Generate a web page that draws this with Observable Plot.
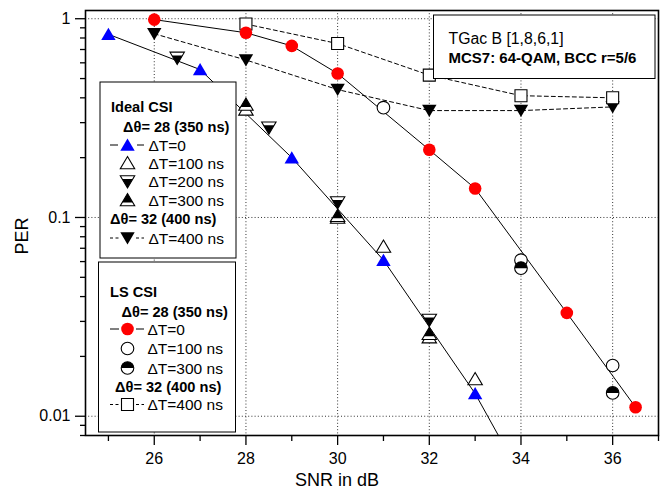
<!DOCTYPE html>
<html><head><meta charset="utf-8">
<script src="https://cdn.jsdelivr.net/npm/d3@7"></script>
<script src="https://cdn.jsdelivr.net/npm/@observablehq/plot@0.6"></script>
<style>
body{margin:0;background:#fff;}
#chart{width:669px;height:491px;}
svg{font-family:"Liberation Sans",Arial,Helvetica,sans-serif;}
</style></head><body><div id="chart"></div>
<script>
// ---------- data (SNR in dB, PER) ----------
// Ideal CSI, Δθ=28 (350 ns)
const idealT0Snr = [25, 27, 29, 31, 33, 34];
const idealT0Per = [0.835, 0.555, 0.2, 0.061, 0.013, 0.005];
const idealT100Snr = [28, 30, 31, 32, 33];
const idealT100Per = [0.35, 0.1, 0.0715, 0.025, 0.0154];
const idealT200Snr = [26.5, 28.5, 30, 32];
const idealT200Per = [0.635, 0.283, 0.119, 0.0305];
const idealT300Snr = [28, 30, 32];
const idealT300Per = [0.37, 0.102, 0.026];
// Ideal CSI, Δθ=32 (400 ns)
const idealT400Snr = [26, 28, 30, 32, 34, 36];
const idealT400Per = [0.84, 0.62, 0.44, 0.345, 0.345, 0.36];
// LS CSI, Δθ=28 (350 ns)
const lsT0Snr = [26, 28, 29, 30, 32, 33, 35, 36.5];
const lsT0Per = [0.99, 0.85, 0.73, 0.53, 0.219, 0.14, 0.0331, 0.0111];
const lsT100Snr = [31, 34, 36];
const lsT100Per = [0.357, 0.061, 0.018];
const lsT300Snr = [34, 36];
const lsT300Per = [0.0556, 0.0131];
// LS CSI, Δθ=32 (400 ns)
const lsT400Snr = [28, 30, 32, 34, 36];
const lsT400Per = [0.94, 0.75, 0.52, 0.41, 0.40];

// ---------- ticks & labels ----------
const xMajor = [26, 28, 30, 32, 34, 36];
const xMinor = [25, 27, 29, 31, 33, 35, 37];
const yMajor = [1, 0.1, 0.01];
const yMajorLabels = ["1", "0.1", "0.01"];
const yMinor = [0.9, 0.8, 0.7, 0.6, 0.5, 0.4, 0.3, 0.2,
                0.09, 0.08, 0.07, 0.06, 0.05, 0.04, 0.03, 0.02,
                0.009, 0.008];
const xTitle = "SNR in dB";
const yTitle = "PER";
const infoLines = ["TGac B [1,8,6,1]", "MCS7: 64-QAM, BCC r=5/6"];
const idealLegend = ["Ideal CSI", "\u0394\u03b8= 28 (350 ns)", "\u0394T=0", "\u0394T=100 ns", "\u0394T=200 ns", "\u0394T=300 ns", "\u0394\u03b8= 32 (400 ns)", "\u0394T=400 ns"];
const lsLegend = ["LS CSI", "\u0394\u03b8= 28 (350 ns)", "\u0394T=0", "\u0394T=100 ns", "\u0394T=300 ns", "\u0394\u03b8= 32 (400 ns)", "\u0394T=400 ns"];

const rows = (s, p) => s.map((x, i) => ({snr: x, per: p[i]}));

// ---------- custom symbols ----------
const rad = size => Math.sqrt(size / Math.PI);
const SYM = {
  triUp: {draw(c, s){const r = rad(s); c.moveTo(0,-0.9*r); c.lineTo(r,0.8*r); c.lineTo(-r,0.8*r); c.closePath();}},
  triDown: {draw(c, s){const r = rad(s); c.moveTo(0,0.9*r); c.lineTo(r,-0.8*r); c.lineTo(-r,-0.8*r); c.closePath();}},
  triDownLow: {draw(c, s){const r = rad(s); c.moveTo(0,0.9*r); c.lineTo(0.735*r,-0.35*r); c.lineTo(-0.735*r,-0.35*r); c.closePath();}},
  triUpHigh: {draw(c, s){const r = rad(s); c.moveTo(0,-0.9*r); c.lineTo(0.735*r,0.35*r); c.lineTo(-0.735*r,0.35*r); c.closePath();}},
  square: {draw(c, s){const r = rad(s); c.rect(-r,-r,2*r,2*r);}},
  circle: {draw(c, s){const r = rad(s); c.moveTo(r,0); c.arc(0,0,r,0,2*Math.PI);}},
  halfTop: {draw(c, s){const r = rad(s); c.moveTo(r,0); c.arc(0,0,r,0,Math.PI,true); c.closePath();}}
};
const TRI = 7.2, CIR = 6.3, SQ = 6;

const xy = {x: "snr", y: "per", clip: true};
const openMark = (data, symbol, r) => Plot.dot(data, {...xy, symbol, r, fill: "white", stroke: "black", strokeWidth: 1.1});
const fillMark = (data, symbol, r, color) => Plot.dot(data, {...xy, symbol, r, fill: color, stroke: "none"});

const chart = Plot.plot({
  width: 669, height: 491,
  marginLeft: 85, marginRight: 11, marginTop: 10, marginBottom: 56,
  x: {domain: [24.5, 37]},
  y: {type: "log", domain: [0.008, 1.1]},
  style: {fontFamily: "'Liberation Sans', Arial, sans-serif", fontSize: "16px", color: "black", background: "white"},
  marks: [
    Plot.ruleX(xMajor, {stroke: "#333", strokeWidth: 1, strokeDasharray: "1,2.2"}),
    Plot.ruleY(yMajor, {stroke: "#333", strokeWidth: 1, strokeDasharray: "1,2.2"}),
    Plot.axisX(xMajor, {anchor: "bottom", tickSize: 10, tickPadding: 7, fontSize: 16, label: null, tickFormat: d => String(d), strokeWidth: 1.3}),
    Plot.axisX(xMinor, {anchor: "bottom", tickSize: 6, label: null, tickFormat: () => "", strokeWidth: 1.3}),
    Plot.axisY(yMajor, {anchor: "left", tickSize: 10, tickPadding: 5, fontSize: 16, label: null, tickFormat: d => yMajorLabels[yMajor.indexOf(d)], strokeWidth: 1.3}),
    Plot.axisY(yMinor, {anchor: "left", tickSize: 5, label: null, tickFormat: () => "", strokeWidth: 1.3}),
    // lines
    Plot.line(rows(idealT0Snr, idealT0Per), {...xy, stroke: "black", strokeWidth: 1}),
    Plot.line(rows(idealT400Snr, idealT400Per), {...xy, stroke: "black", strokeWidth: 1, strokeDasharray: "4,3"}),
    Plot.line(rows(lsT0Snr, lsT0Per), {...xy, stroke: "black", strokeWidth: 1}),
    Plot.line(rows(lsT400Snr, lsT400Per), {...xy, stroke: "black", strokeWidth: 1, strokeDasharray: "4,3"}),
    // ideal markers
    openMark(rows(idealT100Snr, idealT100Per), SYM.triUp, TRI),
    openMark(rows(idealT200Snr, idealT200Per), SYM.triDown, TRI),
    fillMark(rows(idealT200Snr, idealT200Per), SYM.triDownLow, TRI, "black"),
    openMark(rows(idealT300Snr, idealT300Per), SYM.triUp, TRI),
    fillMark(rows(idealT300Snr, idealT300Per), SYM.triUpHigh, TRI, "black"),
    fillMark(rows(idealT0Snr, idealT0Per), SYM.triUp, TRI, "#0000ff"),
    fillMark(rows(idealT400Snr, idealT400Per), SYM.triDown, TRI, "black"),
    // LS markers
    openMark(rows(lsT400Snr, lsT400Per), SYM.square, SQ),
    openMark(rows(lsT100Snr, lsT100Per), SYM.circle, CIR),
    openMark(rows(lsT300Snr, lsT300Per), SYM.circle, CIR),
    fillMark(rows(lsT300Snr, lsT300Per), SYM.halfTop, CIR, "black"),
    fillMark(rows(lsT0Snr, lsT0Per), SYM.circle, CIR, "#ff0000"),
    Plot.frame({stroke: "black", strokeWidth: 1.6})
  ]
});
document.getElementById("chart").appendChild(chart);

// ---------- overlay: axis titles, info box, legends ----------
const svg = d3.select(chart);
const g = svg.append("g").attr("font-family", "'Liberation Sans', Arial, sans-serif").attr("text-anchor", "start");
g.append("text").attr("x", 337).attr("y", 480).attr("text-anchor", "middle").attr("dominant-baseline", "central").attr("font-size", 18).text(xTitle);
g.append("text").attr("transform", "translate(22,236) rotate(-90)").attr("text-anchor", "middle").attr("dominant-baseline", "central").attr("font-size", 18).text(yTitle);

const NORM = 15.5, BOLD = 14.6;
function box(x, y, w, h) {
  g.append("rect").attr("x", x).attr("y", y).attr("width", w).attr("height", h).attr("fill", "white").attr("stroke", "black").attr("stroke-width", 1);
}
function txt(x, y, s, bold, size) {
  g.append("text").attr("x", x).attr("y", y).attr("text-anchor", "start").attr("dominant-baseline", "central")
    .attr("font-size", size || (bold ? BOLD : NORM)).attr("font-weight", bold ? "bold" : null).text(s);
}
function sym(symbol, r, cx, cy, fill, stroke) {
  g.append("path").attr("d", d3.symbol(symbol, r * r * Math.PI)()).attr("transform", `translate(${cx},${cy})`)
    .attr("fill", fill).attr("stroke", stroke || "none").attr("stroke-width", 1.1);
}
function seg(x1, x2, y, dash) {
  g.append("line").attr("x1", x1).attr("x2", x2).attr("y1", y).attr("y2", y).attr("stroke", "black").attr("stroke-width", 1).attr("stroke-dasharray", dash || null);
}

// info box
box(433.5, 15, 221.5, 63.5);
txt(448.5, 38.5, infoLines[0], false, 15.8);
txt(448.5, 57, infoLines[1], true, 15);

// Ideal CSI legend
box(100, 82, 136, 176);
txt(111, 107, idealLegend[0], true);
txt(123, 127, idealLegend[1], true);
seg(110, 118, 145); seg(137, 144, 145);
sym(SYM.triUp, TRI, 127.5, 145, "#0000ff");
txt(148.5, 145, idealLegend[2]);
sym(SYM.triUp, TRI, 127.5, 163, "white", "black");
txt(148.5, 163, idealLegend[3]);
sym(SYM.triDown, TRI, 127.5, 181.5, "white", "black");
sym(SYM.triDownLow, TRI, 127.5, 181.5, "black");
txt(148.5, 181.5, idealLegend[4]);
sym(SYM.triUp, TRI, 127.5, 200, "white", "black");
sym(SYM.triUpHigh, TRI, 127.5, 200, "black");
txt(148.5, 200, idealLegend[5]);
txt(110, 218.5, idealLegend[6], true);
seg(110, 119, 238, "3,2.5"); seg(136, 144, 238, "3,2.5");
sym(SYM.triDown, TRI, 127.5, 238, "black");
txt(148.5, 238, idealLegend[7]);

// LS CSI legend
box(98.5, 262, 137, 170);
txt(110, 292, lsLegend[0], true);
txt(121.5, 312, lsLegend[1], true);
seg(110, 119, 329); seg(136, 144, 329);
sym(SYM.circle, CIR, 127.5, 329, "#ff0000");
txt(147.5, 329, lsLegend[2]);
sym(SYM.circle, CIR, 127.5, 348.5, "white", "black");
txt(147.5, 348.5, lsLegend[3]);
sym(SYM.circle, CIR, 127.5, 368, "white", "black");
sym(SYM.halfTop, CIR, 127.5, 368, "black");
txt(147.5, 368, lsLegend[4]);
txt(115, 386.5, lsLegend[5], true);
seg(110, 119, 404.5, "3,2.5"); seg(136, 144, 404.5, "3,2.5");
sym(SYM.square, SQ, 127.5, 404.5, "white", "black");
txt(147.5, 404.5, lsLegend[6]);
</script></body></html>
